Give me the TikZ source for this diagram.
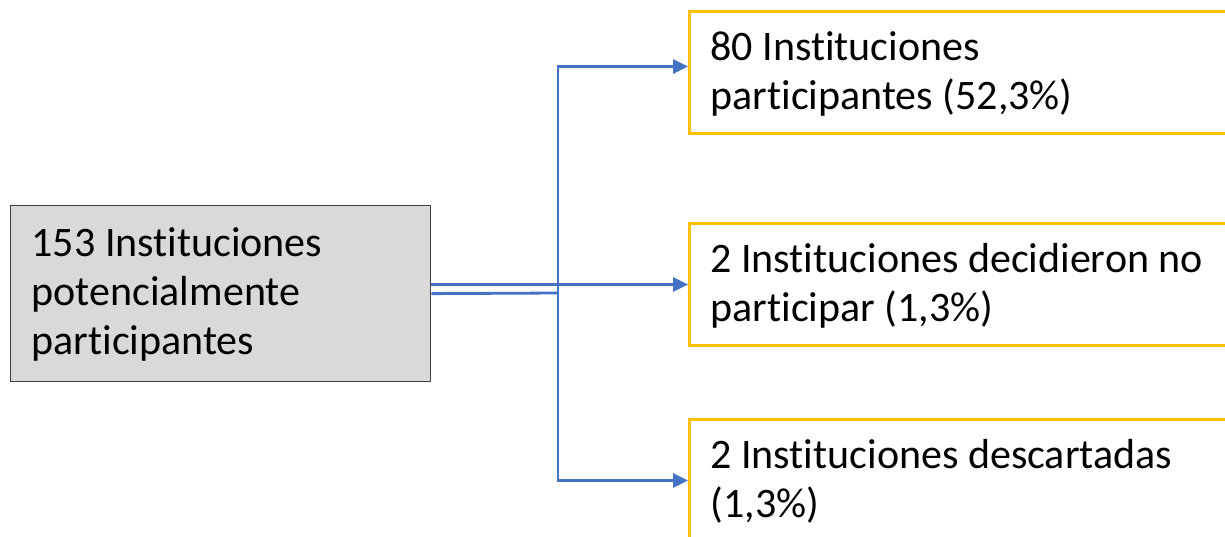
\documentclass[tikz,border=0pt]{standalone}
\usepackage{fontspec}
\setmainfont[Ligatures={NoCommon}]{Carlito}
\usetikzlibrary{arrows.meta}
\definecolor{linkblue}{HTML}{4472C4}
\definecolor{boxorange}{HTML}{FFC000}
\definecolor{boxgray}{HTML}{D9D9D9}

\begin{document}
\begin{tikzpicture}[x=1pt, y=-1pt,
    txt/.style={font=\fontsize{42}{49}\selectfont, align=flush left, anchor=north west,
        inner xsep=21pt, inner ysep=0pt},
    inbox/.style={txt, draw=black!75, line width=1.3pt, fill=boxgray,
        text width=378pt, text height=51pt, text depth=125pt},
    outbox/.style={txt, draw=boxorange, line width=3pt,
        text width=540pt, text height=49pt, text depth=73pt},
    link/.style={draw=linkblue, line width=2.8pt},
    arrow/.style={link, -{Triangle[length=15pt, width=14pt]}}]
    \useasboundingbox (0,0) rectangle (1225,536);

    % Starting group
    \node[inbox] (total) at (10,205) {153 Instituciones\\potencialmente\\participantes};

    % Outcomes
    \node[outbox] (part) at (688,10) {80 Instituciones\\participantes (52,3\%)};
    \node[outbox] (nopart) at (688,222) {2 Instituciones decidieron no\\participar (1,3\%)};
    \node[outbox] (desc) at (688,418) {2 Instituciones descartadas\\(1,3\%)};

    % Branch point
    \coordinate (split) at (558,293);

    % Connectors
    \draw[link] (total.east) -- (split);
    \draw[arrow] (total.east |- nopart.west) -- (nopart.west);
    \draw[arrow] (split) |- ([yshift=6pt]part.west);
    \draw[arrow] (split) |- (desc.west);
\end{tikzpicture}
\end{document}
